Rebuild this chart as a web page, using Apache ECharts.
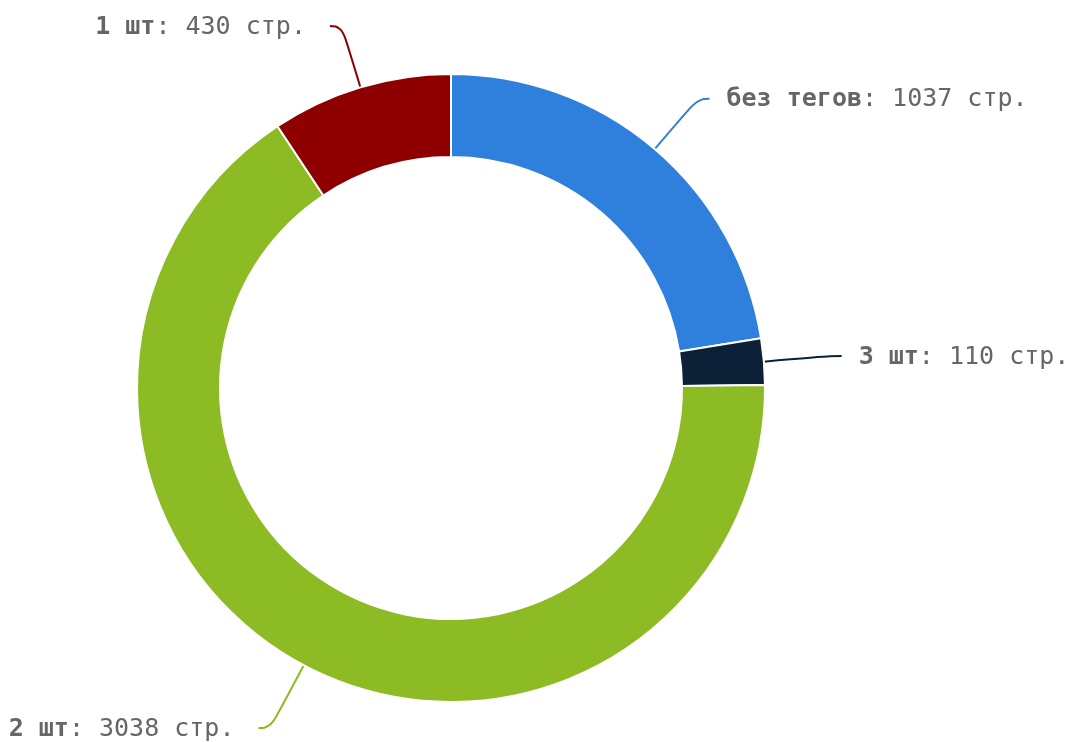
<!DOCTYPE html>
<html>
<head>
<meta charset="utf-8">
<script src="https://cdn.jsdelivr.net/npm/echarts@6/dist/echarts.min.js"></script>
<style>
  html, body { margin: 0; padding: 0; background: #fff; }
  #chart { width: 1079px; height: 742px; }
</style>
</head>
<body>
<div id="chart"></div>
<script>
const names = ['без тегов', '3 шт', '2 шт', '1 шт']
const values = [1037, 110, 3038, 430]
const colors = ['#2f80dc', '#0c2038', '#8cbb23', '#8e0000']
// per-slice label line length
const lineLengths = [66, 66, 71, 64]

const chart = echarts.init(document.getElementById('chart'))

chart.setOption({
  animation: false,
  series: [
    {
      type: 'pie',
      center: [451, 388],
      radius: [231, 314],
      startAngle: 90,
      clockwise: true,
      avoidLabelOverlap: false,
      itemStyle: {
        borderColor: '#fff',
        borderWidth: 2,
      },
      label: {
        show: true,
        fontFamily: 'DejaVu Sans Mono',
        fontSize: 25,
        color: '#666',
        padding: [2, 19, 0, 12],
        formatter: (p) => '{b|' + p.name + '}: ' + p.value + ' стр.',
        rich: {
          b: {
            fontFamily: 'DejaVu Sans Mono',
            fontSize: 25,
            fontWeight: 'bold',
            color: '#666',
          },
        },
      },
      labelLine: {
        show: true,
        length2: 12,
        smooth: 0.5,
        lineStyle: { width: 2 },
      },
      data: names.map((n, i) => ({
        name: n,
        value: values[i],
        itemStyle: { color: colors[i] },
        labelLine: { length: lineLengths[i] },
      })),
    },
  ],
})
</script>
</body>
</html>
